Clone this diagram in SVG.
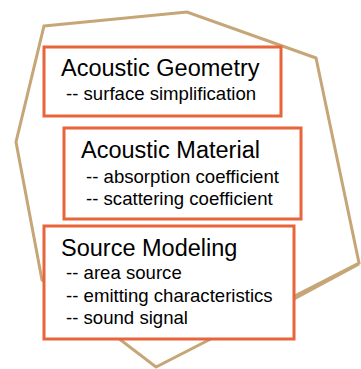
<svg xmlns="http://www.w3.org/2000/svg" width="361" height="369" viewBox="0 0 361 369">
<style>
.edge{fill:none;stroke:#C6A677;stroke-width:3;stroke-linejoin:miter}
.box{fill:#fff;stroke:#E8643A;stroke-width:3}
.h{font-family:"Liberation Sans",Arial,sans-serif;font-size:23.5px;fill:#000}
.s{font-family:"Liberation Sans",Arial,sans-serif;font-size:18.6px;fill:#000}
</style>
<rect width="361" height="369" fill="#fff"/>
<g id="connectors">
<polygon class="edge" points="44,26 187,12 316,58 359,263 156,367 42,280 16,142"/>
<polyline class="edge" points="359,264 294,299"/>
</g>
<g id="geometry">
<rect class="box" x="44" y="47" width="237" height="69"/>
<text class="h" x="61" y="76">Acoustic Geometry</text>
<text class="s" x="66" y="100">-- surface simplification</text>
</g>
<g id="material">
<rect class="box" x="64" y="128" width="237" height="91"/>
<text class="h" x="81" y="158">Acoustic Material</text>
<text class="s" x="86" y="183">-- absorption coefficient</text>
<text class="s" x="86" y="205">-- scattering coefficient</text>
</g>
<g id="source">
<rect class="box" x="44" y="226" width="250" height="113"/>
<text class="h" x="61" y="256">Source Modeling</text>
<text class="s" x="66" y="279">-- area source</text>
<text class="s" x="66" y="302">-- emitting characteristics</text>
<text class="s" x="66" y="324">-- sound signal</text>
</g>
</svg>
